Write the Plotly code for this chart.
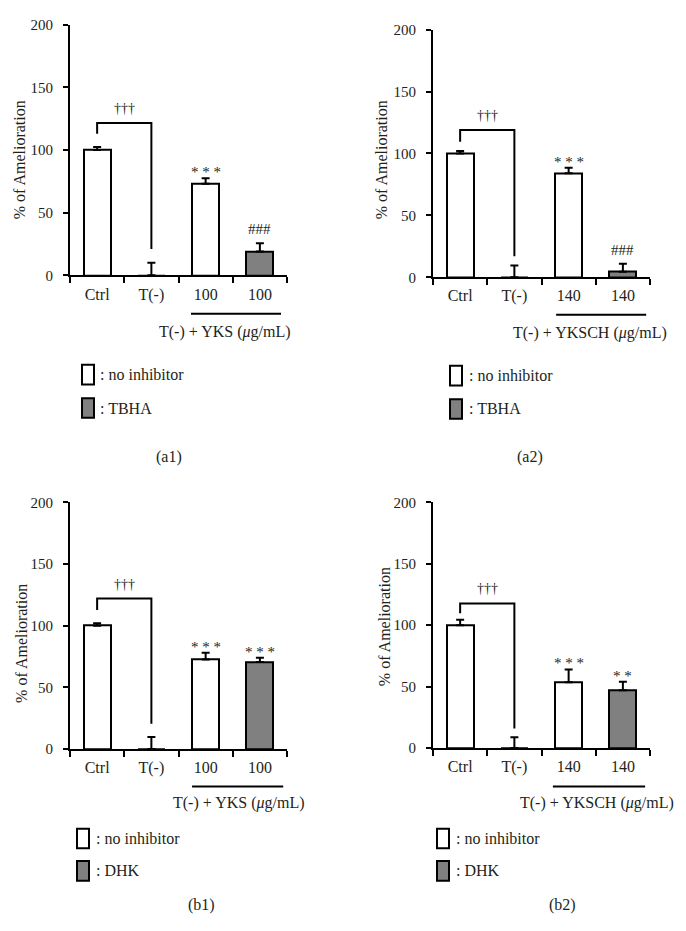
import plotly.graph_objects as go

# ---------------- data ----------------
a1_labels = ["Ctrl", "T(-)", "100", "100"]
a1_values = [100, 0, 73, 19]
a1_errors = [2.5, 10, 4.5, 6.5]
a1_inhibited = [False, False, False, True]
a1_marks = ["", "", "* * *", "###"]
a1_bracket = [113, 121.5, 21]          # left end, top, right end
a1_group = "T(-) + YKS (<i>μ</i>g/mL)"
a1_legend = [": no inhibitor", ": TBHA"]
a1_tag = "(a1)"

a2_labels = ["Ctrl", "T(-)", "140", "140"]
a2_values = [100, 0, 84, 4.5]
a2_errors = [2, 9.5, 4.5, 6.5]
a2_inhibited = [False, False, False, True]
a2_marks = ["", "", "* * *", "###"]
a2_bracket = [109.5, 119, 17]
a2_group = "T(-) + YKSCH (<i>μ</i>g/mL)"
a2_legend = [": no inhibitor", ": TBHA"]
a2_tag = "(a2)"

b1_labels = ["Ctrl", "T(-)", "100", "100"]
b1_values = [100, 0, 72.5, 70.5]
b1_errors = [2, 9.8, 5.5, 3.5]
b1_inhibited = [False, False, False, True]
b1_marks = ["", "", "* * *", "* * *"]
b1_bracket = [112.7, 122, 20.5]
b1_group = "T(-) + YKS (<i>μ</i>g/mL)"
b1_legend = [": no inhibitor", ": DHK"]
b1_tag = "(b1)"

b2_labels = ["Ctrl", "T(-)", "140", "140"]
b2_values = [100, 0, 53.5, 47]
b2_errors = [4.5, 8.8, 10.5, 7]
b2_inhibited = [False, False, False, True]
b2_marks = ["", "", "* * *", "* *"]
b2_bracket = [109.8, 117.7, 16]
b2_group = "T(-) + YKSCH (<i>μ</i>g/mL)"
b2_legend = [": no inhibitor", ": DHK"]
b2_tag = "(b2)"

dagger = "†††"
y_ticks = [0, 50, 100, 150, 200]
y_title = "% of Amelioration"

# ---------------- layout geometry (pixels) ----------------
W, H = 686, 931
FONT = "Liberation Serif"
INK = "#231f20"
GRAY = "#808080"


def px(x):
    return x / W


def py(y):
    return 1 - y / H


panels = [
    dict(d=(a1_labels, a1_values, a1_errors, a1_inhibited, a1_marks, a1_bracket, a1_group, a1_legend, a1_tag),
         x0=70, x1=287, y0=17, y1=272, yt=(19, 155), line_y=311, line_x=(1.73, 3.39),
         grp=(2.36, 330), leg=(82, 363, 397), legtx=98, tagpos=(169, 457)),
    dict(d=(a2_labels, a2_values, a2_errors, a2_inhibited, a2_marks, a2_bracket, a2_group, a2_legend, a2_tag),
         x0=433, x1=650, y0=22, y1=274, yt=(381, 155), line_y=312, line_x=(1.77, 3.43),
         grp=(2.39, 331), leg=(450, 364, 398), legtx=467, tagpos=(530, 457)),
    dict(d=(b1_labels, b1_values, b1_errors, b1_inhibited, b1_marks, b1_bracket, b1_group, b1_legend, b1_tag),
         x0=70, x1=287, y0=503, y1=754, yt=(22, 647), line_y=792, line_x=(1.75, 3.43),
         grp=(2.62, 809), leg=(77, 835, 868), legtx=94, tagpos=(201, 913)),
    dict(d=(b2_labels, b2_values, b2_errors, b2_inhibited, b2_marks, b2_bracket, b2_group, b2_legend, b2_tag),
         x0=433, x1=650, y0=503, y1=753, yt=(384, 630), line_y=792, line_x=(1.71, 3.41),
         grp=(2.52, 809), leg=(437, 835, 868), legtx=454, tagpos=(562, 913)),
]

fig = go.Figure()
annotations = []
shapes = []

for k, p in enumerate(panels):
    labels, values, errors, inhibited, marks, bracket, group, legend, tag = p["d"]
    n = "" if k == 0 else str(k + 1)
    xa, ya = "x" + n, "y" + n
    pos = list(range(len(labels)))

    fig.add_trace(go.Bar(
        x=pos, y=values, width=0.5, xaxis=xa, yaxis=ya,
        marker=dict(color=[GRAY if f else "white" for f in inhibited],
                    line=dict(color="black", width=2)),
        error_y=dict(type="data", array=errors, arrayminus=[0] * len(errors), symmetric=False,
                     color="black", thickness=2, width=4),
        showlegend=False, hoverinfo="skip",
    ))
    # significance bracket Ctrl vs T(-)
    fig.add_trace(go.Scatter(
        x=[pos[0], pos[0], pos[1], pos[1]],
        y=[bracket[0], bracket[1], bracket[1], bracket[2]],
        mode="lines", line=dict(color="black", width=2),
        xaxis=xa, yaxis=ya, showlegend=False, hoverinfo="skip",
    ))

    fig.update_layout(**{
        ("xaxis" + n): dict(
            domain=[px(p["x0"]), px(p["x1"])], anchor=ya, range=[-0.5, len(labels) - 0.5],
            tickmode="array", tickvals=pos, ticktext=labels, ticks="",
            ticklabelstandoff=3,
            minor=dict(tickmode="array", tickvals=[i - 0.5 for i in range(len(labels) + 1)],
                       ticks="outside", ticklen=6, tickwidth=2, tickcolor="black"),
            showline=True, linewidth=2, linecolor="black", showgrid=False, zeroline=False,
            tickfont=dict(family=FONT, size=16, color=INK), fixedrange=True,
        ),
        ("yaxis" + n): dict(
            domain=[py(p["y1"]), py(p["y0"])], anchor=xa, range=[0, 200],
            tickmode="array", tickvals=y_ticks, ticks="outside", ticklen=5, tickwidth=2,
            tickcolor="black", ticklabelstandoff=7,
            showline=True, linewidth=2, linecolor="black", showgrid=False, zeroline=False,
            tickfont=dict(family=FONT, size=15, color=INK), fixedrange=True,
        ),
    })

    # y-axis title
    annotations.append(dict(
        text=y_title, x=px(p["yt"][0]), y=py(p["yt"][1]), xref="paper", yref="paper",
        textangle=-90, showarrow=False, xanchor="center", yanchor="middle",
        font=dict(family=FONT, size=16, color=INK)))

    # dagger above bracket
    annotations.append(dict(
        text=dagger, x=(pos[0] + pos[1]) / 2, y=bracket[1], xref=xa, yref=ya,
        showarrow=False, yanchor="bottom", yshift=5,
        font=dict(family=FONT, size=14, color=INK)))

    # significance marks
    for i, m in enumerate(marks):
        if not m:
            continue
        star = "*" in m
        annotations.append(dict(
            text=m, x=pos[i], y=values[i] + errors[i], xref=xa, yref=ya,
            showarrow=False, yanchor="bottom", yshift=-4 if star else 4,
            font=dict(family=FONT, size=15, color=INK)))

    # group underline + label
    shapes.append(dict(type="line", xref=xa, yref="paper",
                       x0=p["line_x"][0], x1=p["line_x"][1],
                       y0=py(p["line_y"]), y1=py(p["line_y"]),
                       line=dict(color="black", width=2)))
    annotations.append(dict(
        text=group, x=p["grp"][0], y=py(p["grp"][1]), xref=xa, yref="paper",
        showarrow=False, xanchor="center", yanchor="middle",
        font=dict(family=FONT, size=16, color=INK)))

    # custom legend
    lx, t1, t2 = p["leg"]
    for top, fill, txt in [(t1, "white", legend[0]), (t2, GRAY, legend[1])]:
        shapes.append(dict(type="rect", xref="paper", yref="paper",
                           x0=px(lx), x1=px(lx + 12), y0=py(top + 20), y1=py(top),
                           line=dict(color="black", width=2), fillcolor=fill))
        annotations.append(dict(
            text=txt, x=px(p["legtx"]), y=py(top + 10), xref="paper", yref="paper",
            showarrow=False, xanchor="left", yanchor="middle",
            font=dict(family=FONT, size=16, color=INK)))

    # panel tag
    annotations.append(dict(
        text=tag, x=px(p["tagpos"][0]), y=py(p["tagpos"][1]), xref="paper", yref="paper",
        showarrow=False, xanchor="center", yanchor="middle",
        font=dict(family=FONT, size=16, color=INK)))

fig.update_layout(
    width=W, height=H, margin=dict(l=0, r=0, t=0, b=0),
    paper_bgcolor="white", plot_bgcolor="white",
    annotations=annotations, shapes=shapes, bargap=0,
)

fig.write_html("out.html", config={"displayModeBar": False},
               post_script="document.body.style.margin='0px';")
